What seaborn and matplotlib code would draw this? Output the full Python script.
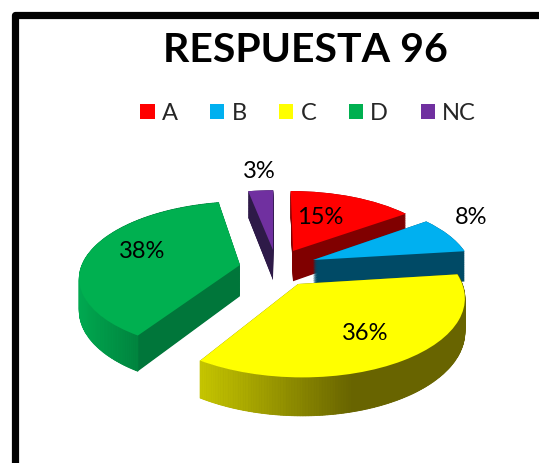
import numpy as np
import matplotlib
matplotlib.use("Agg")
import matplotlib.pyplot as plt
import seaborn as sns
from matplotlib.patches import Wedge
from matplotlib.transforms import Transform

# Data
categories = ["A", "B", "C", "D", "NC"]
percents = [15, 8, 36, 38, 3]
colors = ["#FF0000", "#00B0F0", "#FFFF00", "#00B050", "#7030A0"]
side_colors = ["#800000", "#004A66", "#6A6600", "#00763A", "#2E1A48"]
title = "RESPUESTA 96"

# Layout: the tip of each slice in picture pixels, and where its label goes
tips = [(293, 251), (313, 260), (298, 284), (240, 265), (273, 250)]
label_pos = [(320, 218), (471, 218), (365, 334), (142, 252), (259, 171)]
draw_order = [4, 0, 1, 3, 2]

# Perspective of the tilted pie
CX, CY = 275, 262
SCALE_X, SCALE_Y = 157, 72
TILT = 0.15
DEPTH = 31


class TiltTransform(Transform):
    """Unit pie space to picture pixels, with a shift and a drop for the thickness."""
    input_dims = 2
    output_dims = 2
    is_separable = False
    has_inverse = False

    def __init__(self, shift, drop=0.0):
        super().__init__()
        self.shift = shift
        self.drop = drop

    def transform_non_affine(self, values):
        values = np.asarray(values, dtype=float)
        u = values[:, 0] + self.shift[0]
        v = values[:, 1] + self.shift[1]
        w = 1 + TILT * v
        x = CX + SCALE_X * u / w
        y = CY - (SCALE_Y * v - DEPTH * self.drop) / w
        return np.column_stack([x, y])


def tip_to_shift(tip):
    dx = tip[0] - CX
    dy = CY - tip[1]
    v = dy / (SCALE_Y - TILT * dy)
    u = dx * (1 + TILT * v) / SCALE_X
    return u, v


sns.set_theme(style="white")
plt.rcParams["font.family"] = ["Lato", "DejaVu Sans"]

fig = plt.figure(figsize=(5.39, 4.63), dpi=100)
ax = fig.add_axes([0, 0, 1, 1])

wedges, _ = ax.pie(percents, colors=sns.color_palette(colors), startangle=90,
                   counterclock=False, wedgeprops={"linewidth": 0})
ax.set_aspect("auto")
ax.set_xlim(0, 539)
ax.set_ylim(463, 0)
ax.axis("off")

# Shaded outer rims, light to dark from left to right
rim_shades = {
    2: (sns.blend_palette(["#C4C400", "#686400"], 64), 201, 350),
    3: (sns.blend_palette(["#00A850", "#00843E"], 64), 80, 137),
}

for rank, i in enumerate(draw_order):
    top = wedges[i]
    shift = tip_to_shift(tips[i])
    z = 10 + rank * 10

    # Thickness: the same slice stacked downwards
    for drop in np.linspace(1, 0, 45):
        layer = Wedge((0, 0), 1, top.theta1, top.theta2, fc=side_colors[i], lw=0, zorder=z)
        ax.add_patch(layer)
        layer.set_transform(TiltTransform(shift, drop) + ax.transData)

    if i in rim_shades:
        palette, x_start, x_end = rim_shades[i]
        angles = np.radians(np.linspace(top.theta1, top.theta2, 160))
        arc = np.column_stack([np.cos(angles), np.sin(angles)])
        upper = TiltTransform(shift, 0).transform_non_affine(arc)
        lower = TiltTransform(shift, 1).transform_non_affine(arc)
        for k in range(len(arc) - 1):
            pos = (upper[k, 0] - x_start) / (x_end - x_start)
            shade = palette[int(np.clip(pos, 0, 1) * 63)]
            ax.fill([upper[k, 0], upper[k + 1, 0], lower[k + 1, 0], lower[k, 0]],
                    [upper[k, 1], upper[k + 1, 1], lower[k + 1, 1], lower[k, 1]],
                    color=shade, lw=0.6, zorder=z + 1)

    top.set_transform(TiltTransform(shift) + ax.transData)
    top.set_zorder(z + 2)

# Labels
for value, (x, y) in zip(percents, label_pos):
    ax.text(x, y, f"{value}%", fontsize=17, color="black", ha="center", va="center", zorder=100)

ax.text(305, 50, title, fontsize=29.5, fontweight="bold", color="black",
        ha="center", va="center", zorder=100)

ax.legend(wedges, categories, ncol=5, frameon=False, fontsize=17, loc="center",
          bbox_to_anchor=(308 / 539, 1 - 113 / 463), handlelength=0.6, handleheight=0.6,
          handletextpad=0.3, columnspacing=1.38, borderpad=0, borderaxespad=0)

# Slide frame, cut off at the right and bottom of the picture
ax.plot([14.5, 14.5, 545], [470, 14.5, 14.5], color="black", lw=5.2,
        solid_joinstyle="round", zorder=120, clip_on=True)

fig.savefig("out.png", dpi=100, facecolor="white")
